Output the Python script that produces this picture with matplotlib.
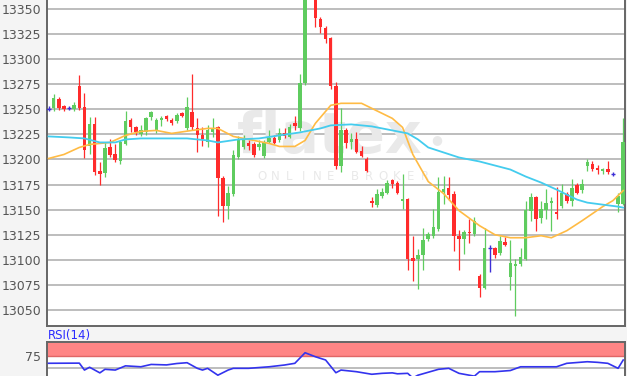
import numpy as np
import matplotlib.pyplot as plt

# OHLC per candle (candle 51 lies above the visible range)
opens = [13250, 13251, 13260, 13253, 13251, 13250, 13273, 13252, 13213, 13235,
         13189, 13187, 13212, 13205, 13198, 13215, 13239, 13232, 13225, 13227,
         13242, 13229, 13239, 13243, 13239, 13238, 13246, 13231, 13247, 13231,
         13224, 13217, 13227, 13232, 13182, 13154, 13166, 13202, 13212, 13216,
         13215, 13212, 13203, 13217, 13221, 13219, 13226, 13222, 13236, 13231,
         13276, 13375, 13365, 13340, 13331, 13321, 13273, 13194, 13229, 13217,
         13220, 13208, 13200, 13159, 13155, 13164, 13167, 13180, 13177, 13159,
         13161, 13102, 13101, 13105, 13121, 13124, 13131, 13168, 13172, 13166,
         13124, 13121, 13128, 13126, 13084, 13072, 13112, 13112, 13107, 13118,
         13083, 13094, 13096, 13101, 13149, 13163, 13142, 13150, 13157, 13148,
         13154, 13166, 13159, 13175, 13170, 13194, 13196, 13192, 13189, 13191,
         13186, 13156, 13156]
highs = [13253, 13265, 13262, 13254, 13253, 13257, 13284, 13266, 13242, 13242,
         13197, 13217, 13220, 13215, 13219, 13248, 13241, 13233, 13234, 13242,
         13248, 13241, 13243, 13244, 13241, 13246, 13247, 13262, 13285, 13241,
         13232, 13234, 13241, 13233, 13184, 13174, 13209, 13223, 13224, 13219,
         13217, 13219, 13219, 13229, 13224, 13231, 13231, 13235, 13243, 13285,
         13380, 13385, 13370, 13342, 13333, 13322, 13277, 13251, 13231, 13226,
         13227, 13213, 13202, 13163, 13171, 13172, 13180, 13181, 13179, 13186,
         13162, 13124, 13111, 13132, 13128, 13151, 13183, 13184, 13183, 13169,
         13130, 13130, 13141, 13143, 13086, 13132, 13115, 13113, 13124, 13123,
         13120, 13101, 13112, 13159, 13167, 13164, 13159, 13171, 13163, 13173,
         13176, 13168, 13181, 13177, 13181, 13200, 13198, 13195, 13192, 13198,
         13188, 13167, 13241]
lows = [13248, 13248, 13249, 13248, 13249, 13248, 13249, 13201, 13205, 13185,
        13175, 13183, 13202, 13197, 13196, 13214, 13227, 13224, 13223, 13224,
        13239, 13226, 13233, 13238, 13234, 13236, 13242, 13229, 13229, 13207,
        13213, 13212, 13222, 13144, 13138, 13141, 13164, 13200, 13210, 13209,
        13202, 13209, 13201, 13216, 13215, 13217, 13221, 13221, 13229, 13228,
        13274, 13362, 13332, 13326, 13316, 13270, 13191, 13188, 13211, 13210,
        13206, 13202, 13188, 13153, 13153, 13162, 13166, 13172, 13166, 13151,
        13090, 13079, 13071, 13090, 13119, 13122, 13129, 13156, 13160, 13109,
        13090, 13106, 13117, 13124, 13063, 13071, 13088, 13102, 13105, 13114,
        13070, 13044, 13094, 13100, 13139, 13129, 13137, 13141, 13129, 13141,
        13152, 13157, 13154, 13166, 13167, 13189, 13189, 13186, 13186, 13186,
        13184, 13148, 13155]
closes = [13250, 13261, 13251, 13250, 13251, 13254, 13251, 13209, 13235, 13188,
          13186, 13211, 13204, 13199, 13217, 13238, 13232, 13227, 13229, 13241,
          13247, 13239, 13241, 13240, 13236, 13244, 13243, 13252, 13232, 13224,
          13220, 13229, 13231, 13182, 13154, 13167, 13204, 13219, 13220, 13213,
          13204, 13215, 13217, 13221, 13216, 13226, 13223, 13232, 13233, 13276,
          13372, 13368, 13341, 13332, 13320, 13273, 13194, 13229, 13216, 13220,
          13207, 13203, 13189, 13157, 13166, 13168, 13177, 13176, 13167, 13161,
          13101, 13099, 13105, 13120, 13126, 13133, 13168, 13171, 13165, 13124,
          13121, 13128, 13127, 13139, 13072, 13112, 13112, 13105, 13119, 13115,
          13097, 13096, 13103, 13150, 13163, 13141, 13151, 13157, 13159, 13146,
          13167, 13159, 13172, 13167, 13176, 13197, 13191, 13190, 13191, 13188,
          13186, 13164, 13217]

# moving averages, read at some candles
ma_fast_idx = [0, 3, 6, 8, 12, 15, 18, 21, 24, 28, 31, 33, 36, 39, 43, 45, 48, 50, 52,
               55, 57, 61, 63, 67, 69, 71, 72, 74, 77, 80, 84, 87, 90, 93, 96, 98,
               101, 104, 108, 110, 112]
ma_fast = [13201, 13205, 13212, 13215, 13217, 13224, 13228, 13229, 13226, 13229,
           13231, 13231, 13223, 13220, 13216, 13213, 13213, 13219, 13236, 13254,
           13256, 13256, 13251, 13241, 13232, 13205, 13196, 13178, 13166, 13149,
           13134, 13125, 13122, 13122, 13124, 13122, 13129, 13139, 13153, 13159,
           13169]
ma_slow_idx = [0, 4, 7, 10, 13, 15, 18, 23, 27, 31, 33, 37, 41, 45, 49, 53, 55, 59,
               63, 67, 70, 72, 74, 77, 80, 84, 87, 90, 93, 96, 99, 103, 105, 108,
               111, 112]
ma_slow = [13223, 13222, 13221, 13217, 13217, 13220, 13221, 13221, 13221, 13219,
           13217, 13220, 13221, 13224, 13227, 13231, 13234, 13235, 13233, 13229,
           13226, 13220, 13212, 13207, 13202, 13198, 13194, 13190, 13183, 13177,
           13170, 13160, 13157, 13155, 13153, 13152]

# RSI(14)
rsi_idx = [0, 6, 7, 8, 10, 11, 13, 15, 18, 20, 23, 25, 27, 29, 30, 31, 33, 35, 36,
           39, 43, 46, 48, 50, 52, 54, 56, 57, 60, 63, 65, 67, 68, 70, 71, 72, 76,
           78, 80, 83, 84, 87, 90, 92, 95, 99, 101, 105, 107, 109, 111, 112]
rsi = [59.5, 59.8, 45, 51, 39, 46.6, 45, 54, 52, 57, 56, 59, 60.7, 48.7, 45, 48.7,
       34, 45, 48.7, 48.7, 52, 55.8, 59.4, 82, 73.5, 66.5, 39.3, 45, 41.5, 36, 38,
       39, 37, 38, 28, 34, 46.6, 48.7, 38, 32, 41.5, 41.5, 44, 52, 52, 52, 59.4,
       62.8, 61.5, 59.4, 48.7, 66.5]

GREEN = '#5fcc5f'
RED = '#ff2b2b'
DOJI = '#3d2fd6'
WM = '#e9e9e9'
W, H = 627, 376

fig = plt.figure(figsize=(6.27, 3.76), dpi=100, facecolor='#f4f4f4')
ax = fig.add_axes([47 / W, 1 - 326 / H, 578 / W, 326 / H])
ax.set_facecolor('white')

o, h, l, c = (np.array(v, dtype=float) for v in (opens, highs, lows, closes))
x = np.arange(len(o))
up = c > o
dn = c < o
dj = c == o

ax.vlines(x[up], l[up], h[up], color=GREEN, lw=0.9, zorder=3)
ax.bar(x[up], c[up] - o[up], bottom=o[up], width=0.68, color=GREEN, lw=0, zorder=3)
ax.vlines(x[dn], l[dn], h[dn], color=RED, lw=0.9, zorder=3)
ax.bar(x[dn], o[dn] - c[dn], bottom=c[dn], width=0.68, color=RED, lw=0, zorder=3)
ax.vlines(x[dj], l[dj], h[dj], color=DOJI, lw=1.0, zorder=3)
ax.hlines(o[dj], x[dj] - 0.4, x[dj] + 0.4, color=DOJI, lw=1.0, zorder=3)

ax.plot(ma_fast_idx, ma_fast, color='#ffbb44', lw=1.2, zorder=4)
ax.plot(ma_slow_idx, ma_slow, color='#44ccee', lw=1.3, zorder=4)

# watermark (positions in figure pixels converted to axes fraction)
ax.text((330 - 47) / 578, 1 - 138 / 326, 'flatex', transform=ax.transAxes,
        fontsize=41, fontweight='bold', color=WM, ha='center', va='center', zorder=1)
ax.text((437 - 47) / 578, 1 - 140 / 326, '\u25cf', transform=ax.transAxes,
        fontsize=9, color=WM, ha='center', va='center', zorder=1)
for k, ch in enumerate('ONLINE'):
    ax.text((262 + k * 13.7 - 47) / 578, 1 - 176 / 326, ch, transform=ax.transAxes,
            fontsize=8.5, color=WM, ha='center', va='center', zorder=1)
for k, ch in enumerate('BROKER'):
    ax.text((355 + k * 14 - 47) / 578, 1 - 176 / 326, ch, transform=ax.transAxes,
            fontsize=8.5, color=WM, ha='center', va='center', zorder=1)

ax.set_xlim(-0.3, 112.35)
ax.set_ylim(13034, 13359)
ax.set_yticks(np.arange(13050, 13351, 25))
ax.set_xticks([])
ax.yaxis.grid(True, color='#b8b8b8', lw=1.3)
ax.set_axisbelow(True)
ax.tick_params(axis='y', length=0, labelsize=9, labelcolor='#555555', pad=4)
ax.spines['top'].set_visible(False)
for s in ('left', 'right', 'bottom'):
    ax.spines[s].set_color('#666666')
    ax.spines[s].set_linewidth(1.4)

# RSI panel
ax2 = fig.add_axes([47 / W, 0, 578 / W, 34.3 / H])
ax2.set_facecolor('white')
ax2.axhspan(75, 120, color='#ff8585', lw=0, zorder=1)
ax2.axhline(75, color='#e06666', lw=1.0, zorder=2)
ax2.axhline(50, color='#b8b8b8', lw=1.3, zorder=1)
ax2.plot(rsi_idx, rsi, color='#3333ee', lw=1.2, zorder=3)
ax2.set_xlim(-0.3, 112.35)
ax2.set_ylim(32.3, 105.6)
ax2.set_yticks([75])
ax2.set_xticks([])
ax2.tick_params(axis='y', length=0, labelsize=9, labelcolor='#555555', pad=4)
ax2.spines['bottom'].set_visible(False)
for s in ('left', 'right', 'top'):
    ax2.spines[s].set_color('#666666')
    ax2.spines[s].set_linewidth(1.4)

fig.text(48 / W, 1 - 335 / H, 'RSI(14)', color='#2a2aff', fontsize=8.5, va='center')

fig.savefig('out.png', dpi=100, facecolor=fig.get_facecolor())
